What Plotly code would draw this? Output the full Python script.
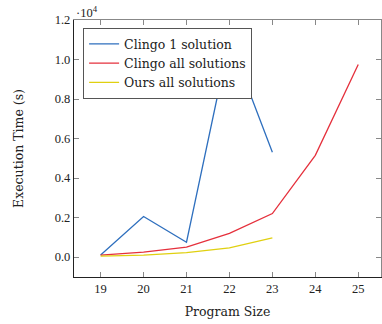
import plotly.graph_objects as go

program_size = [19, 20, 21, 22, 23, 24, 25]
clingo_one = [100, 2050, 750, 11000, 5300]
clingo_all = [100, 250, 500, 1200, 2200, 5150, 9750]
ours_all = [50, 100, 220, 460, 970]

y_ticks = [0, 2000, 4000, 6000, 8000, 10000, 12000]
y_tick_text = ["0.0", "0.2", "0.4", "0.6", "0.8", "1.0", "1.2"]

TEXT_FONT = "DejaVu Serif"
TICK_FONT = "Liberation Serif"
XR = [18.38, 25.53]
YR = [-1010, 12000]

fig = go.Figure()
fig.add_trace(go.Scatter(x=program_size[:len(clingo_one)], y=clingo_one, mode="lines",
                         name="Clingo 1 solution", line=dict(color="#2e6fbe", width=1.3)))
fig.add_trace(go.Scatter(x=program_size[:len(clingo_all)], y=clingo_all, mode="lines",
                         name="Clingo all solutions", line=dict(color="#e5303c", width=1.3)))
fig.add_trace(go.Scatter(x=program_size[:len(ours_all)], y=ours_all, mode="lines",
                         name="Ours all solutions", line=dict(color="#e0d010", width=1.3)))
fig.add_trace(go.Scatter(x=[None], y=[None], xaxis="x2", yaxis="y2", showlegend=False,
                         hoverinfo="skip"))

fig.update_layout(
    width=382, height=324,
    margin=dict(l=74, r=1, t=20, b=47),
    paper_bgcolor="white", plot_bgcolor="white",
    font=dict(family=TEXT_FONT, size=12.5, color="#222"),
    showlegend=True,
    legend=dict(x=0.029, y=0.969, xanchor="left", yanchor="top",
                bgcolor="white", bordercolor="#555", borderwidth=1.2,
                font=dict(size=12.5, family=TEXT_FONT, color="#222"),
                itemwidth=30, tracegroupgap=0),
    xaxis=dict(range=XR, tickvals=program_size, ticks="inside", ticklen=5,
               tickcolor="#888", showline=True, linecolor="#222", linewidth=1.3,
               mirror=False, showgrid=False, zeroline=False, automargin=False,
               tickfont=dict(family=TICK_FONT, size=12.5, color="#222"),
               title=dict(text="Program Size", standoff=12,
                          font=dict(family=TEXT_FONT, size=12.5))),
    yaxis=dict(range=YR, tickvals=y_ticks, ticktext=y_tick_text,
               ticks="inside", ticklen=5, tickcolor="#888", showline=True,
               linecolor="#222", linewidth=1.3, mirror=False, showgrid=False,
               zeroline=False, automargin=False,
               tickfont=dict(family=TICK_FONT, size=12.5, color="#222"),
               title=dict(text="Execution Time (s)", standoff=28,
                          font=dict(family=TEXT_FONT, size=12.5))),
    xaxis2=dict(overlaying="x", side="top", matches="x", range=XR,
                tickvals=program_size, ticks="inside", ticklen=5, tickcolor="#888",
                showticklabels=False, showline=True, linecolor="#888", linewidth=1.3,
                showgrid=False, zeroline=False, anchor="y", automargin=False),
    yaxis2=dict(overlaying="y", side="right", matches="y", range=YR,
                tickvals=y_ticks, ticks="inside", ticklen=5, tickcolor="#888",
                showticklabels=False, showline=True, linecolor="#888", linewidth=1.3,
                showgrid=False, zeroline=False, anchor="x", automargin=False),
    annotations=[dict(text="·10<sup>4</sup>", xref="paper", yref="paper", x=0.0, y=1.0,
                      xanchor="left", yanchor="bottom", showarrow=False, yshift=-2,
                      font=dict(size=12.5, family=TICK_FONT, color="#222"))],
)

fig.write_html("out.html", config={"displayModeBar": False},
               post_script="document.body.style.margin='0';document.body.style.overflow='hidden';")
